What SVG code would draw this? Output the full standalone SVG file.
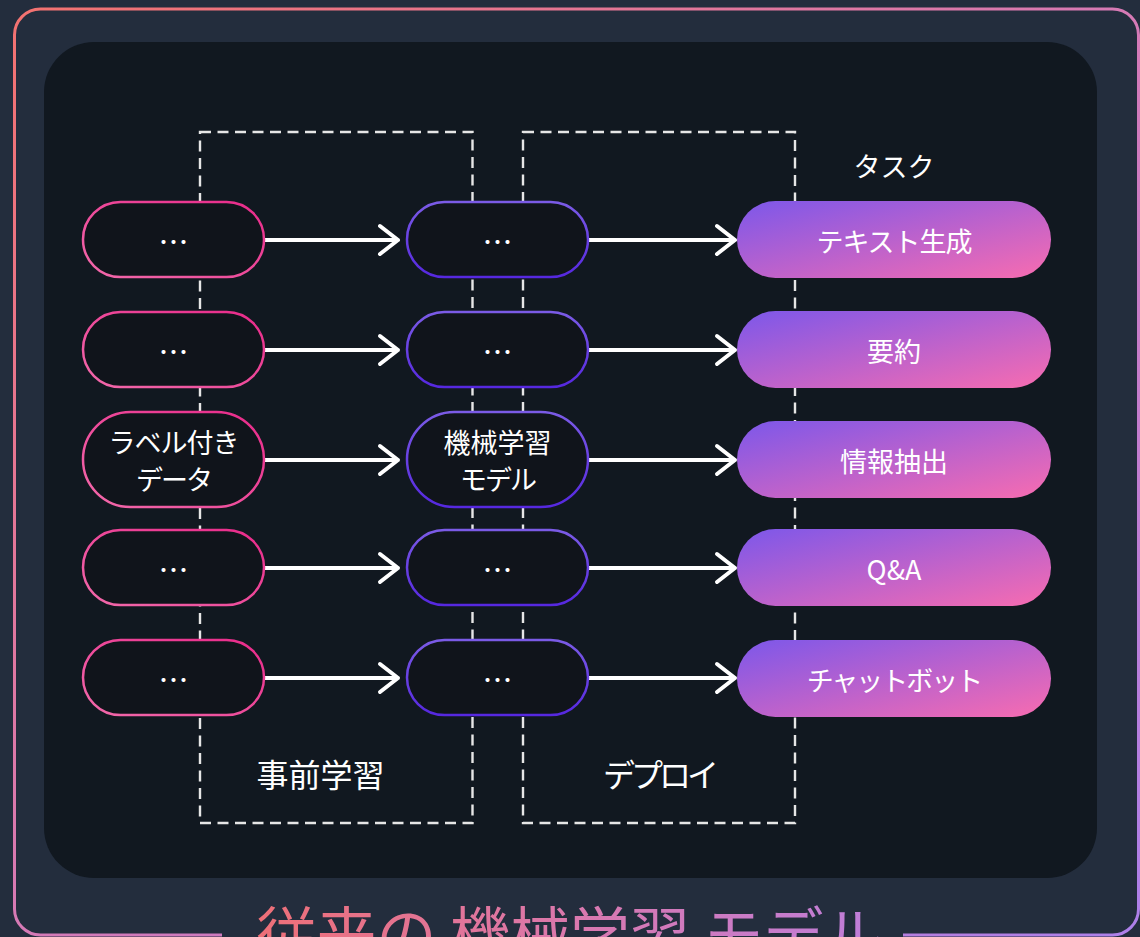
<svg xmlns="http://www.w3.org/2000/svg" width="1140" height="937" viewBox="0 0 1140 937">
  <defs>
    <linearGradient id="gBorder" x1="0" y1="0" x2="1" y2="1">
      <stop offset="0" stop-color="#f37270"/>
      <stop offset="0.5" stop-color="#d67ab6"/>
      <stop offset="1" stop-color="#ad80ea"/>
    </linearGradient>
    <linearGradient id="gTitle" gradientUnits="userSpaceOnUse" x1="250" y1="0" x2="890" y2="0">
      <stop offset="0" stop-color="#ee6f76"/>
      <stop offset="0.5" stop-color="#da78ad"/>
      <stop offset="1" stop-color="#bd7edc"/>
    </linearGradient>
    <linearGradient id="gPink" x1="0" y1="1" x2="1" y2="0">
      <stop offset="0" stop-color="#f36aab"/>
      <stop offset="1" stop-color="#e92a8a"/>
    </linearGradient>
    <linearGradient id="gPurple" x1="0" y1="0" x2="0" y2="1">
      <stop offset="0" stop-color="#7b5be6"/>
      <stop offset="1" stop-color="#5628e0"/>
    </linearGradient>
    <linearGradient id="gTask" x1="0" y1="0" x2="1" y2="1">
      <stop offset="0" stop-color="#7c57ea"/>
      <stop offset="1" stop-color="#f86cb0"/>
    </linearGradient>
    <style>
      .txt { font-family: "Noto Sans CJK JP", "Noto Sans", sans-serif; fill: #ffffff; text-anchor: middle; dominant-baseline: central; }
      .lbl { font-size: 27px; }
      .kana { font-size: 27px; letter-spacing: -2px; }
      .big { font-size: 32px; }
      .dots { font-size: 30px; }
      .n1 { fill: #10141b; stroke: url(#gPink); stroke-width: 2.5; }
      .n2 { fill: #10141b; stroke: url(#gPurple); stroke-width: 2.5; }
      .n3 { fill: url(#gTask); }
      .dash { fill: none; stroke: #e6e6e6; stroke-width: 2.4; stroke-dasharray: 11 6.5; }
      .arr { fill: none; stroke: #ffffff; stroke-width: 4; stroke-linecap: round; stroke-linejoin: round; }
    </style>
  </defs>

  <rect x="0" y="0" width="1140" height="937" fill="#232d3d"/>
  <rect x="14.5" y="9" width="1124" height="926" rx="26" fill="#232d3d" stroke="url(#gBorder)" stroke-width="3"/>
  <rect x="222" y="924" width="681" height="13" fill="#232d3d"/>
  <rect x="44" y="42" width="1053" height="836" rx="50" fill="#111820"/>

  <g id="stages">
    <rect class="dash" x="200" y="132" width="272.5" height="691"/>
    <rect class="dash" x="523" y="132" width="272" height="691"/>
    <text class="txt big" x="320.5" y="773">事前学習</text>
    <text class="txt big" x="659" y="773" letter-spacing="-4">デプロイ</text>
    <text class="txt lbl" x="894" y="165">タスク</text>
  </g>

  <g id="connectors">
    <path class="arr" d="M264 240 H398 M380 226 L398 240 L380 254"/>
    <path class="arr" d="M264 350 H398 M380 336 L398 350 L380 364"/>
    <path class="arr" d="M264 460 H398 M380 446 L398 460 L380 474"/>
    <path class="arr" d="M264 568 H398 M380 554 L398 568 L380 582"/>
    <path class="arr" d="M264 678 H398 M380 664 L398 678 L380 692"/>
    <path class="arr" d="M588 240 H735 M717 226 L735 240 L717 254"/>
    <path class="arr" d="M588 350 H735 M717 336 L735 350 L717 364"/>
    <path class="arr" d="M588 460 H735 M717 446 L735 460 L717 474"/>
    <path class="arr" d="M588 568 H735 M717 554 L735 568 L717 582"/>
    <path class="arr" d="M588 678 H735 M717 664 L735 678 L717 692"/>
  </g>

  <g id="data1"><rect class="n1" x="83" y="202" width="181" height="75" rx="37.5"/><text class="txt dots" x="173.5" y="240">…</text></g>
  <g id="data2"><rect class="n1" x="83" y="312" width="181" height="75" rx="37.5"/><text class="txt dots" x="173.5" y="350">…</text></g>
  <g id="data3"><rect class="n1" x="83" y="412" width="181" height="95" rx="47.5"/><text class="txt lbl" x="173.5" y="441" letter-spacing="-1">ラベル付き</text><text class="txt kana" x="173.5" y="478">データ</text></g>
  <g id="data4"><rect class="n1" x="83" y="530" width="181" height="75" rx="37.5"/><text class="txt dots" x="173.5" y="568">…</text></g>
  <g id="data5"><rect class="n1" x="83" y="640" width="181" height="75" rx="37.5"/><text class="txt dots" x="173.5" y="678">…</text></g>

  <g id="model1"><rect class="n2" x="407" y="202" width="181" height="75" rx="37.5"/><text class="txt dots" x="497.5" y="240">…</text></g>
  <g id="model2"><rect class="n2" x="407" y="312" width="181" height="75" rx="37.5"/><text class="txt dots" x="497.5" y="350">…</text></g>
  <g id="model3"><rect class="n2" x="407" y="412" width="181" height="95" rx="47.5"/><text class="txt lbl" x="497.5" y="441">機械学習</text><text class="txt kana" x="497.5" y="478">モデル</text></g>
  <g id="model4"><rect class="n2" x="407" y="530" width="181" height="75" rx="37.5"/><text class="txt dots" x="497.5" y="568">…</text></g>
  <g id="model5"><rect class="n2" x="407" y="640" width="181" height="75" rx="37.5"/><text class="txt dots" x="497.5" y="678">…</text></g>

  <g id="task1"><rect class="n3" x="737" y="201" width="314" height="77" rx="38.5"/><text class="txt lbl" x="894" y="240" letter-spacing="-1">テキスト生成</text></g>
  <g id="task2"><rect class="n3" x="737" y="311" width="314" height="77" rx="38.5"/><text class="txt lbl" x="894" y="350">要約</text></g>
  <g id="task3"><rect class="n3" x="737" y="421" width="314" height="77" rx="38.5"/><text class="txt lbl" x="894" y="460">情報抽出</text></g>
  <g id="task4"><rect class="n3" x="737" y="529" width="314" height="77" rx="38.5"/><text class="txt lbl" x="894" y="568">Q&amp;A</text></g>
  <g id="task5"><rect class="n3" x="737" y="640" width="314" height="77" rx="38.5"/><text class="txt kana" x="894" y="679" letter-spacing="-4">チャットボット</text></g>

  <g id="title">
    <text x="570" y="957" font-family="Noto Sans CJK JP, sans-serif" font-size="60" fill="url(#gTitle)" text-anchor="middle">従来の 機械学習 モデル</text>
  </g>
</svg>
